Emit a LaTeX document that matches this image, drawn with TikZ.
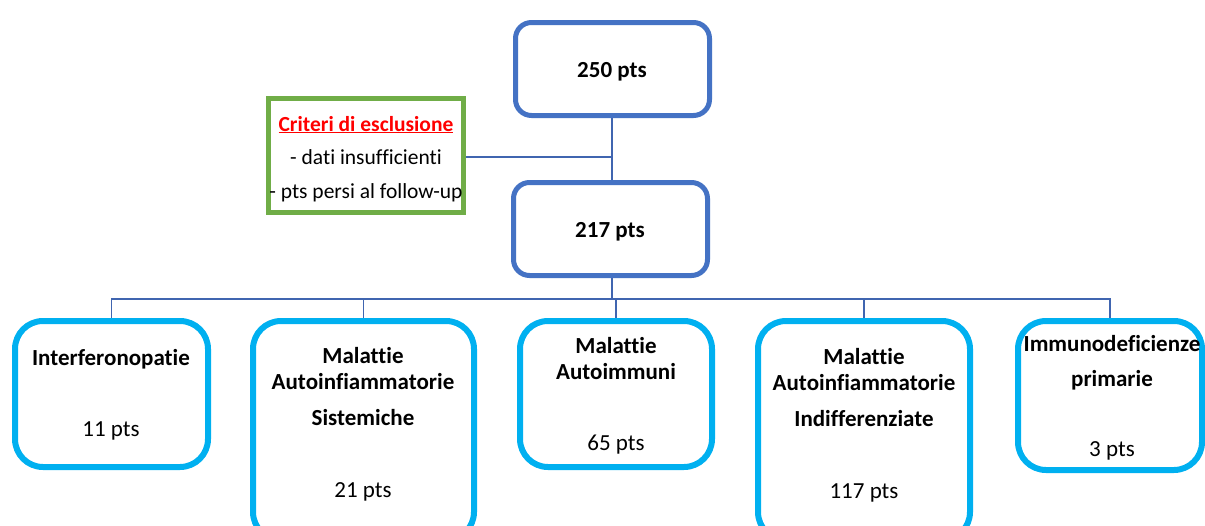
\documentclass[tikz,border=0pt]{standalone}
\usepackage{fontspec}
\setmainfont{Carlito}[Ligatures=NoCommon]
\usetikzlibrary{backgrounds}
\definecolor{topblue}{HTML}{4472C4}
\definecolor{cyanb}{HTML}{00B0F0}
\definecolor{greenb}{HTML}{70AD47}
\definecolor{linec}{HTML}{4065B0}
\definecolor{redt}{HTML}{FF0000}
\begin{document}
\begin{tikzpicture}[x=1pt,y=-1pt,
  topbox/.style={draw=topblue,line width=5pt,rounded corners=16pt,fill=white,inner sep=0pt},
  catbox/.style={draw=cyanb,line width=6pt,rounded corners=28pt,fill=white,inner sep=0pt},
  exclbox/.style={draw=greenb,line width=5pt,fill=white,inner sep=0pt},
  conn/.style={draw=linec,line width=1.8pt},
  lbl/.style={font=\fontsize{23}{27}\selectfont\bfseries,inner sep=0pt,anchor=base},
  num/.style={font=\fontsize{23}{27}\selectfont,inner sep=0pt,anchor=base},
  elbl/.style={font=\fontsize{21.5}{25}\selectfont\bfseries,inner sep=0pt,anchor=base},
  enum/.style={font=\fontsize{21.5}{25}\selectfont,inner sep=0pt,anchor=base}]
\useasboundingbox (0,0) rectangle (1205,525);
\clip (0,0) rectangle (1205,525);
% boxes
\node[topbox,minimum width=194pt,minimum height=93pt] (top) at (612.5,69) {};
\node[topbox,minimum width=194pt,minimum height=93pt] (mid) at (610.5,229) {};
\node[exclbox,minimum width=195pt,minimum height=114pt] (excl) at (366,155.5) {};
\node[catbox,minimum width=193pt,minimum height=146pt] (c1) at (111.5,394) {};
\node[catbox,minimum width=221pt,minimum height=219pt] (c2) at (363.5,430.5) {};
\node[catbox,minimum width=192pt,minimum height=146pt] (c3) at (616,394) {};
\node[catbox,minimum width=212pt,minimum height=219pt] (c4) at (864,430.5) {};
\node[catbox,minimum width=184pt,minimum height=149pt] (c5) at (1110,395.5) {};
\coordinate (bus) at (612,299);
\coordinate (j) at (612,157);
% connectors
\begin{scope}[on background layer]
\fill[white] (0,0) rectangle (1205,525);
\draw[conn] (top.south -| j) -- (mid.north -| j);
\draw[conn] (excl.east |- j) -- (j);
\draw[conn] (mid.south -| bus) -- (bus);
\draw[conn] (c1.north) -- (c1.north |- bus) -- (c5.north |- bus) -- (c5.north);
\draw[conn] (c2.north) -- (c2.north |- bus);
\draw[conn] (c3.north) -- (c3.north |- bus);
\draw[conn] (c4.north) -- (c4.north |- bus);
\end{scope}
% texts
\node[lbl] (t250) at (612,77) {250 pts};
\node[lbl] (t217) at (610,237) {217 pts};
\node[elbl,text=redt] (ex0) at (366,131) {\underline{Criteri di esclusione}};
\node[enum] (ex1) at (366,164) {- dati insufficienti};
\node[enum] (ex2) at (366,198) {- pts persi al follow-up};
\node[lbl] (a1) at (111,365) {Interferonopatie};
\node[num] (a2) at (111,436) {11 pts};
\node[lbl] (b1) at (363,363) {Malattie};
\node[lbl] (b2) at (363,389) {Autoinfiammatorie};
\node[lbl] (b3) at (363,425) {Sistemiche};
\node[num] (b4) at (363,497) {21 pts};
\node[lbl] (d1) at (616,353) {Malattie};
\node[lbl] (d2) at (616,379) {Autoimmuni};
\node[num] (d3) at (616,450) {65 pts};
\node[lbl] (e1) at (864,364) {Malattie};
\node[lbl] (e2) at (864,390) {Autoinfiammatorie};
\node[lbl] (e3) at (864,426) {Indifferenziate};
\node[num] (e4) at (864,498) {117 pts};
\node[lbl] (f1) at (1112,351) {Immunodeficienze};
\node[lbl] (f2) at (1112,386) {primarie};
\node[num] (f3) at (1112,456) {3 pts};
\end{tikzpicture}
\end{document}
